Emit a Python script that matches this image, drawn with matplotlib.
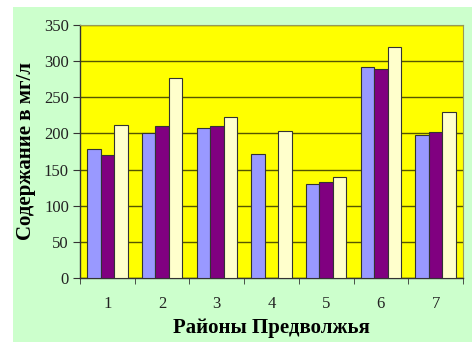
import numpy as np
import matplotlib
matplotlib.use("Agg")
import matplotlib.pyplot as plt
from matplotlib.patches import Rectangle

# Data
districts = ["1", "2", "3", "4", "5", "6", "7"]
series_a = [178, 200, 208, 171, 130, 292, 198]
series_b = [170, 210, 210, 0, 133, 289, 202]
series_c = [211, 277, 223, 203, 140, 319, 229]
y_ticks = [0, 50, 100, 150, 200, 250, 300, 350]

plt.rcParams["font.family"] = ["Liberation Serif", "DejaVu Serif"]

fig = plt.figure(figsize=(4.72, 3.42), dpi=100, facecolor="white")
# light green chart area (white strip on top and left as in the original)
fig.patches.append(Rectangle((13 / 472, 0), 1 - 13 / 472, 1 - 7 / 342,
                             transform=fig.transFigure, facecolor="#CCFFCC",
                             edgecolor="none", zorder=-10))

ax = fig.add_axes([80 / 472, 1 - 278 / 342, (463 - 80) / 472, (278 - 25) / 342])
ax.set_facecolor("#FFFF00")

x = np.arange(len(districts))
w = 0.247
edge = "#333333"
ax.bar(x - w, series_a, w, color="#9999FF", edgecolor=edge, linewidth=0.8, zorder=3)
ax.bar(x, series_b, w, color="#800080", edgecolor=edge, linewidth=0.8, zorder=3)
ax.bar(x + w, series_c, w, color="#FFFFCC", edgecolor=edge, linewidth=0.8, zorder=3)

ax.set_xlim(-0.5, len(districts) - 0.5)
ax.set_ylim(0, 350)
ax.set_yticks(y_ticks)
ax.yaxis.grid(True, color="#555500", linewidth=1.0, zorder=0)
ax.set_axisbelow(True)

ax.set_xticks(x)
ax.set_xticklabels(districts)
ax.set_xticks(np.arange(-0.5, len(districts)), minor=True)
ax.tick_params(axis="x", which="major", length=0, pad=13, labelsize=12, labelcolor="#222222")
ax.tick_params(axis="x", which="minor", length=4, color="#333333", direction="out")
ax.tick_params(axis="y", length=5, color="#333333", labelsize=12, pad=3, labelcolor="#222222")

for s in ["left", "bottom"]:
    ax.spines[s].set_color("#333333")
    ax.spines[s].set_linewidth(1.0)
for s in ["top", "right"]:
    ax.spines[s].set_color("#999955")
    ax.spines[s].set_linewidth(0.8)

ax.set_xlabel("Районы Предволжья", fontsize=15, fontweight="bold", labelpad=4)
ax.set_ylabel("Содержание в мг/л", fontsize=15, fontweight="bold", labelpad=6)

fig.savefig("out.png", dpi=100, facecolor=fig.get_facecolor())
